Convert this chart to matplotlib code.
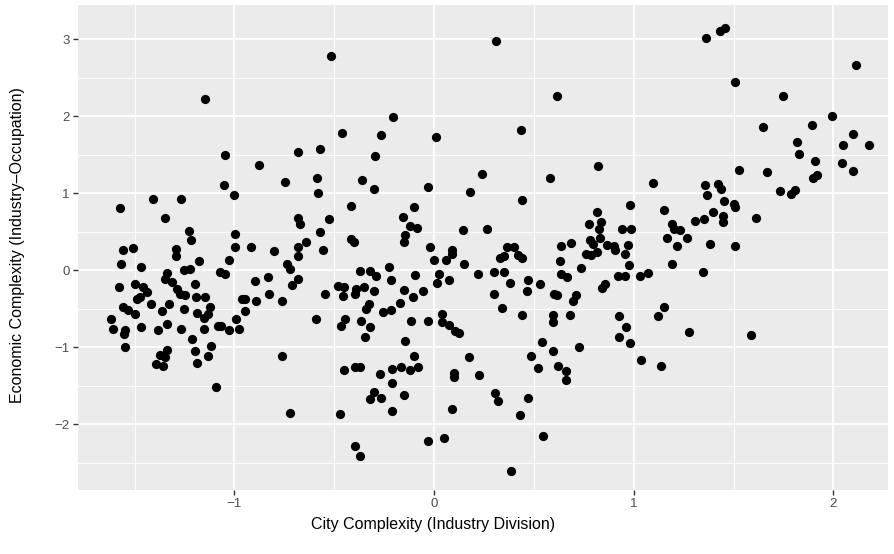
import matplotlib
matplotlib.use("Agg")
import matplotlib.pyplot as plt
import numpy as np

plt.rcParams['font.family'] = ['Liberation Sans', 'DejaVu Sans']

# city complexity (industry division) vs economic complexity (industry-occupation)
city_x = [
    -1.148, -1.406, -1.268, -1.572, -1.347, -1.227, -1.218, -1.56, -1.51, -1.293,
    -1.293, -1.569, -1.469, -1.178, -1.252, -1.223, -1.337, -1.345, -1.312, -1.579,
    -1.499, -1.457, -1.437, -1.287, -1.274, -1.248, -1.198, -1.19, -1.148, -1.49,
    -1.474, -1.416, -1.329, -1.557, -1.532, -1.496, -1.362, -1.252, -1.185, -1.123,
    -1.132, -1.152, -1.619, -1.608, -1.549, -1.553, -1.47, -1.382, -1.335, -1.265,
    -1.213, -1.153, -1.082, -1.547, -1.335, -1.374, -1.349, -1.391, -1.357, -1.198,
    -1.132, -1.118, -1.186, -1.09,
    -0.514, -0.462, -1.045, -0.875, -0.679, -0.571, -1.052, -1.003, -0.748, -0.587,
    -0.582, -0.416, -0.679, -0.671, -0.526, -0.572, -0.641, -0.996, -0.995, -0.918,
    -0.801, -0.683, -0.558, -0.416,
    -0.683, -1.025, -1.072, -1.048, -0.735, -0.721, -0.898, -0.831, -0.679, -0.713,
    -0.479, -0.451, -0.456, -0.544, -0.963, -0.945, -0.89, -0.828, -0.761, -0.945,
    -0.993, -1.065, -1.027, -0.977, -0.592, -0.447, -0.467, -0.763, -0.452, -0.719,
    -0.472,
    -0.207, -0.264, 0.01, -0.294, -0.359, -0.299, -0.03, 0.24, 0.179, -0.099,
    -0.154, -0.12, -0.085, -0.147, -0.149, -0.402, -0.019, 0.09, 0.147,
    0.002, 0.06, 0.09, 0.152, 0.22, -0.372, -0.319, -0.289, -0.225, -0.217,
    -0.094, 0.023, 0.013, 0.073, -0.39, -0.394, -0.352, -0.3, -0.152, -0.054,
    -0.104, -0.172, -0.327, -0.339, -0.254, -0.217, -0.364, -0.322, -0.344, -0.114,
    -0.029, 0.04, 0.04, 0.077, 0.107, 0.124, -0.147, -0.102, -0.082, -0.119,
    -0.164, -0.212, -0.397, -0.372, -0.269, -0.21, -0.299, -0.32, -0.264, -0.15,
    -0.212, 0.174, 0.102, 0.102, 0.227, 0.089, -0.032, 0.049, -0.394, -0.369,
    0.309, 0.614, 0.436, 0.581, 0.821, 0.442, 0.267, 0.364, 0.401, 0.815,
    0.776, 0.838, 0.826, 0.781, 0.83, 0.796, 0.634, 0.688, 0.868,
    0.331, 0.351, 0.421, 0.442, 0.30, 0.351, 0.379, 0.471, 0.464, 0.529,
    0.30, 0.342, 0.439, 0.629, 0.734, 0.637, 0.667, 0.76, 0.785, 0.815,
    0.601, 0.614, 0.71, 0.698, 0.856, 0.843, 0.594, 0.594, 0.68, 0.539,
    0.596, 0.726, 0.487, 0.519, 0.622, 0.661, 0.661, 0.304, 0.319, 0.472,
    0.429, 0.544, 0.384,
    1.362, 1.432, 1.456, 1.506, 1.526, 1.095, 1.359, 1.42, 1.437, 1.366,
    1.454, 1.504, 1.509, 0.981, 1.153, 1.395, 1.446, 1.446, 1.309, 1.351,
    1.19, 1.203, 1.232, 0.941, 0.986, 1.167, 1.265, 1.215, 1.384, 1.506,
    0.903, 0.97,
    0.908, 0.955, 0.978, 0.92, 0.958, 1.032, 1.073, 1.19, 1.345, 1.152,
    1.12, 1.278, 0.925, 0.961, 0.925, 0.981, 1.037, 1.137,
    2.115, 1.748, 1.995, 1.646, 1.891, 2.097, 2.047, 2.177, 1.816, 1.828,
    1.909, 2.041, 2.097, 1.918, 1.896, 1.667, 1.733, 1.786, 1.806, 1.611,
    1.586,
]
econ_y = [
    2.23, 0.93, 0.93, 0.81, 0.68, 0.51, 0.40, 0.27, 0.29, 0.28,
    0.19, 0.08, 0.045, 0.12, 0.0, 0.015, -0.03, -0.115, -0.145, -0.21,
    -0.18, -0.21, -0.275, -0.245, -0.30, -0.32, -0.18, -0.34, -0.35, -0.375,
    -0.35, -0.44, -0.435, -0.47, -0.51, -0.565, -0.52, -0.50, -0.55, -0.47,
    -0.565, -0.62, -0.635, -0.755, -0.77, -0.825, -0.74, -0.77, -0.695, -0.755,
    -0.89, -0.765, -0.72, -0.99, -1.03, -1.10, -1.13, -1.22, -1.24, -1.045,
    -1.105, -0.98, -1.20, -1.51,
    2.78, 1.79, 1.50, 1.37, 1.535, 1.58, 1.105, 0.98, 1.145, 1.20,
    1.0, 0.84, 0.68, 0.60, 0.67, 0.50, 0.37, 0.47, 0.30, 0.31,
    0.25, 0.30, 0.26, 0.41,
    0.19, 0.13, -0.025, -0.05, 0.085, 0.02, -0.14, -0.085, -0.115, -0.19,
    -0.20, -0.22, -0.33, -0.305, -0.375, -0.37, -0.39, -0.31, -0.40, -0.52,
    -0.635, -0.725, -0.77, -0.755, -0.63, -0.625, -0.72, -1.11, -1.29, -1.85,
    -1.86,
    1.99, 1.76, 1.74, 1.49, 1.17, 1.055, 1.09, 1.25, 1.02, 0.82,
    0.69, 0.58, 0.55, 0.465, 0.375, 0.365, 0.31, 0.27, 0.52,
    0.13, 0.135, 0.21, 0.085, -0.05, -0.005, -0.005, -0.07, 0.05, -0.125,
    -0.055, -0.045, -0.16, -0.12, -0.245, -0.31, -0.22, -0.26, -0.255, -0.26,
    -0.34, -0.42, -0.43, -0.50, -0.535, -0.51, -0.65, -0.74, -0.87, -0.65,
    -0.655, -0.565, -0.665, -0.71, -0.78, -0.81, -0.91, -1.105, -1.25, -1.29,
    -1.25, -1.28, -1.25, -1.26, -1.345, -1.46, -1.58, -1.67, -1.65, -1.62,
    -1.83, -1.13, -1.335, -1.38, -1.36, -1.795, -2.21, -2.17, -2.28, -2.41,
    2.98, 2.27, 1.82, 1.20, 1.36, 0.915, 0.535, 0.31, 0.30, 0.765,
    0.605, 0.635, 0.545, 0.40, 0.42, 0.345, 0.32, 0.355, 0.33,
    0.16, 0.19, 0.20, 0.165, -0.015, -0.025, -0.165, -0.125, -0.26, -0.175,
    -0.305, -0.49, -0.575, 0.125, 0.03, -0.045, -0.09, 0.22, 0.20, 0.235,
    -0.30, -0.32, -0.32, -0.39, -0.18, -0.23, -0.58, -0.67, -0.58, -0.93,
    -1.04, -0.99, -1.105, -1.27, -1.245, -1.305, -1.425, -1.59, -1.69, -1.65,
    -1.88, -2.15, -2.60,
    3.015, 3.11, 3.15, 2.45, 1.31, 1.13, 1.105, 1.12, 1.06, 0.98,
    0.90, 0.865, 0.83, 0.85, 0.785, 0.755, 0.71, 0.635, 0.64, 0.665,
    0.61, 0.535, 0.525, 0.545, 0.545, 0.42, 0.42, 0.32, 0.345, 0.32,
    0.32, 0.33,
    0.265, 0.21, 0.07, -0.07, -0.07, -0.07, -0.035, 0.09, -0.015, -0.47,
    -0.59, -0.80, -0.59, -0.73, -0.86, -0.94, -1.165, -1.235,
    2.665, 2.26, 2.01, 1.86, 1.885, 1.77, 1.63, 1.63, 1.67, 1.51,
    1.425, 1.39, 1.29, 1.235, 1.195, 1.285, 1.03, 0.99, 1.04, 0.68,
    -0.84,
]

x_ticks = [-1, 0, 1, 2]
y_ticks = [-2, -1, 0, 1, 2, 3]

fig = plt.figure(figsize=(8.94, 5.54), dpi=100)
ax = fig.add_axes([78 / 894, 64 / 554, 810 / 894, 485 / 554])
ax.set_facecolor('#EBEBEB')

ax.scatter(city_x, econ_y, s=44, color='black', linewidths=0, zorder=3)

ax.set_xlim(-1.783, 2.273)
ax.set_ylim(-2.851, 3.448)

ax.set_xticks(x_ticks)
ax.set_xticklabels(['\u22121', '0', '1', '2'])
ax.set_yticks(y_ticks)
ax.set_yticklabels(['\u22122', '\u22121', '0', '1', '2', '3'])
ax.set_xticks(np.arange(-1.5, 2.5, 1.0), minor=True)
ax.set_yticks(np.arange(-2.5, 3.5, 1.0), minor=True)

ax.grid(which='major', color='white', linewidth=1.3, zorder=1)
ax.grid(which='minor', color='white', linewidth=0.65, zorder=1)
ax.set_axisbelow(True)

for s in ax.spines.values():
    s.set_visible(False)

ax.tick_params(which='major', length=3.5, width=1.0, color='#333333',
               labelsize=9.5, labelcolor='#4D4D4D', pad=2.5)
ax.tick_params(which='minor', length=0)

ax.set_xlabel('City Complexity (Industry Division)', fontsize=11.5, color='black')
ax.set_ylabel('Economic Complexity (Industry\u2013Occupation)', fontsize=11.5, color='black')
# title positions as seen in the reference
ax.xaxis.set_label_coords(0.438, -0.055)
ax.yaxis.set_label_coords(-0.066, 0.505)

fig.savefig('out.png', dpi=100)
